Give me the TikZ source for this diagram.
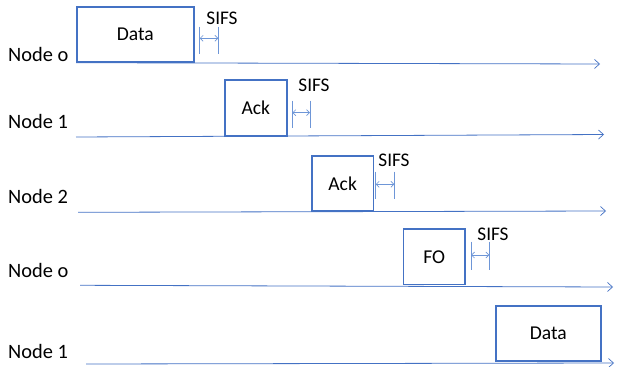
\documentclass[tikz,border=0pt]{standalone}
\usepackage{fontspec}
\setmainfont{Carlito}
\usetikzlibrary{arrows.meta}
\definecolor{officeblue}{RGB}{68,114,196}
\definecolor{lightblue}{RGB}{110,150,215}
\tikzset{
  pkt/.style={draw=officeblue, line width=1.6pt, inner sep=0pt, anchor=south west,
              font=\fontsize{19.6}{22}\selectfont},
  timeline/.style={draw=officeblue, line width=0.8pt, -{Straight Barb[length=5pt,width=9pt,line width=0.7pt]}},
  tick/.style={draw=lightblue, line width=0.8pt},
  gap/.style={draw=lightblue, line width=0.7pt, {Straight Barb[length=3pt,width=6pt]}-{Straight Barb[length=3pt,width=6pt]}},
  lbl/.style={inner sep=0pt, anchor=base west, font=\fontsize{20.4}{23}\selectfont},
  sifs/.style={inner sep=0pt, anchor=base, font=\fontsize{19.3}{22}\selectfont}
}
\begin{document}
\begin{tikzpicture}[x=1pt,y=1pt]
\useasboundingbox (0,0) rectangle (617,-366);
% timelines
\coordinate (s0) at (76,-62.7);  \coordinate (e0) at (600,-64);
\coordinate (s1) at (76,-137);   \coordinate (e1) at (604,-134.5);
\coordinate (s2) at (78,-212.3); \coordinate (e2) at (606,-211);
\coordinate (s3) at (80,-285.3); \coordinate (e3) at (613,-287);
\coordinate (s4) at (86,-364);   \coordinate (e4) at (614,-363);
\foreach \i in {0,...,4} { \draw[timeline] (s\i) -- (e\i); }
% labels
\node[lbl] (n0) at (8,-61.7) {Node o};
\node[lbl] (n1) at (8,-128.3) {Node 1};
\node[lbl] (n2) at (8,-203.3) {Node 2};
\node[lbl] (n3) at (8,-277.3) {Node o};
\node[lbl] (n4) at (8,-358.3) {Node 1};
% packets
\node[pkt, minimum width=117pt, minimum height=55pt] (p0) at (76,-63) {Data};
\node[pkt, minimum width=62pt, minimum height=56pt] (p1) at (224,-137) {Ack};
\node[pkt, minimum width=61.7pt, minimum height=55pt] (p2) at (311,-211.7) {Ack};
\node[pkt, minimum width=61.3pt, minimum height=55.3pt] (p3) at (402.7,-285.3) {FO};
\node[pkt, minimum width=105pt, minimum height=55.3pt] (p4) at (495,-362) {Data};
% SIFS markers
\coordinate (a0t) at (199.7,-26.7); \coordinate (a0b) at (199.7,-54);
\coordinate (b0t) at (218.3,-26.7); \coordinate (b0b) at (218.3,-54);
\draw[tick] (a0t) -- (a0b); \draw[tick] (b0t) -- (b0b);
\draw[gap] (199.7,-38.3) -- (218.3,-38.3);
\node[sifs] (t0) at (222,-25) {SIFS};

\coordinate (a1t) at (292.3,-100.7); \coordinate (a1b) at (292.3,-128);
\coordinate (b1t) at (310,-100.7); \coordinate (b1b) at (310,-128);
\draw[tick] (a1t) -- (a1b); \draw[tick] (b1t) -- (b1b);
\draw[gap] (292.3,-112.7) -- (310,-112.7);
\node[sifs] (t1) at (314,-92) {SIFS};

\coordinate (a2t) at (375.7,-171.7); \coordinate (a2b) at (375.7,-199.3);
\coordinate (b2t) at (394.3,-171.7); \coordinate (b2b) at (394.3,-199.3);
\draw[tick] (a2t) -- (a2b); \draw[tick] (b2t) -- (b2b);
\draw[gap] (375.7,-184.3) -- (394.3,-184.3);
\node[sifs] (t2) at (394,-166) {SIFS};

\coordinate (a3t) at (471,-241.7); \coordinate (a3b) at (471,-270);
\coordinate (b3t) at (489.3,-241.7); \coordinate (b3b) at (489.3,-270);
\draw[tick] (a3t) -- (a3b); \draw[tick] (b3t) -- (b3b);
\draw[gap] (471,-255) -- (489.3,-255);
\node[sifs] (t3) at (493,-240) {SIFS};
\end{tikzpicture}
\end{document}
